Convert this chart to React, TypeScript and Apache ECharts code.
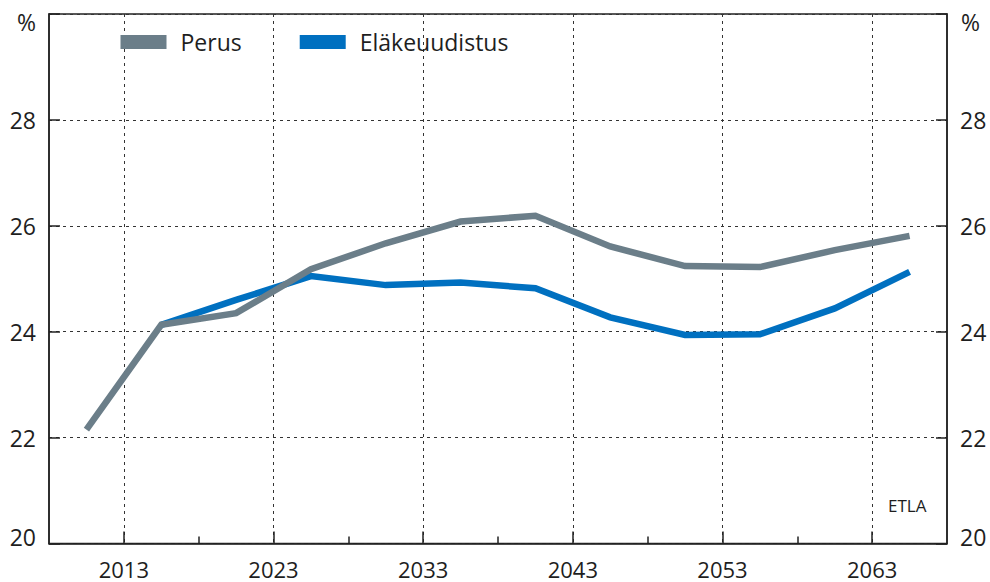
import React, { useEffect, useRef } from "react";
import * as echarts from "echarts";

const years = [2010.5, 2015.5, 2020.5, 2025.5, 2030.5, 2035.5, 2040.5, 2045.5, 2050.5, 2055.5, 2060.5, 2065.5];
const perus = [22.15, 24.13, 24.35, 25.18, 25.67, 26.08, 26.19, 25.61, 25.24, 25.22, 25.54, 25.81];
const elakeuudistus = [null, 24.13, 24.6, 25.05, 24.88, 24.93, 24.82, 24.27, 23.94, 23.95, 24.44, 25.13];
const majorTicks = [2013, 2023, 2033, 2043, 2053, 2063];
const minorTicks = [2018, 2028, 2038, 2048, 2058];
const seriesNames = ["Perus", "Eläkeuudistus"];
const colors = ["#6b7e89", "#0070c0"];

const FONT = "Open Sans";
const TXT = "#1e1e1e";

export default function App() {
  const ref = useRef<HTMLDivElement>(null);
  useEffect(() => {
    if (!ref.current) return;
    document.body.style.margin = "0";
    const chart = echarts.init(ref.current, null, { renderer: "svg" });
    const pair = (vals: (number | null)[]) => years.map((y, i) => [y, vals[i]]);
    const yAxisBase = {
      type: "value" as const,
      min: 20,
      max: 30,
      interval: 2,
      axisLine: { show: true, lineStyle: { color: "#222", width: 1.5 } },
      axisTick: { show: true, inside: true, length: 11, lineStyle: { color: "#222", width: 1.5 } },
      axisLabel: {
        color: TXT,
        fontFamily: FONT,
        fontSize: 23,
        lineHeight: 14,
        margin: 13,
        verticalAlignMinLabel: "bottom",
        formatter: (v: number) => (v === 30 ? "" : String(v)),
      },
    };
    chart.setOption({
      animation: false,
      grid: {
        left: 49,
        right: 43,
        top: 14,
        bottom: 38.5,
        show: true,
        borderColor: "#222",
        borderWidth: 1.5,
        backgroundColor: "transparent",
      },
      legend: {
        data: seriesNames,
        left: 120.5,
        top: 30.5,
        padding: 0,
        icon: "rect",
        itemWidth: 46,
        itemHeight: 14,
        itemGap: 58,
        textStyle: { color: TXT, fontFamily: FONT, fontSize: 23, padding: [0, 0, 0, 9] },
      },
      xAxis: [
        {
          type: "value",
          min: 2008,
          max: 2068,
          position: "bottom",
          axisLine: { show: true, onZero: false, lineStyle: { color: "#222", width: 1.5 } },
          axisTick: {
            show: true,
            inside: true,
            length: 12,
            customValues: majorTicks,
            lineStyle: { color: "#222", width: 1.5 },
          },
          axisLabel: {
            customValues: majorTicks,
            color: TXT,
            fontFamily: FONT,
            fontSize: 22,
            lineHeight: 22,
            margin: 14,
            formatter: (v: number) => String(v),
          },
          splitLine: { show: true, lineStyle: { color: "#333", width: 1, type: [3, 4] } },
        },
        {
          type: "value",
          min: 2008,
          max: 2068,
          position: "bottom",
          axisLine: { show: false, onZero: false },
          axisTick: {
            show: true,
            inside: true,
            length: 7,
            customValues: minorTicks,
            lineStyle: { color: "#222", width: 1.5 },
          },
          axisLabel: { show: false },
          splitLine: { show: false },
        },
      ],
      yAxis: [
        {
          ...yAxisBase,
          position: "left",
          splitLine: { show: true, lineStyle: { color: "#333", width: 1, type: [3, 4] } },
        },
        {
          ...yAxisBase,
          position: "right",
          splitLine: { show: false },
        },
      ],
      graphic: [
        { type: "text", left: 17, top: 10, style: { text: "%", fill: TXT, font: `23px "${FONT}"` } },
        { type: "text", left: 961, top: 10, style: { text: "%", fill: TXT, font: `23px "${FONT}"` } },
        { type: "text", left: 888, top: 497, style: { text: "ETLA", fill: TXT, font: `17px "${FONT}"` } },
      ],
      series: [
        {
          name: seriesNames[1],
          type: "line",
          data: pair(elakeuudistus),
          showSymbol: false,
          symbol: "none",
          lineStyle: { color: colors[1], width: 6.5, cap: "butt", join: "miter" },
          itemStyle: { color: colors[1] },
          z: 2,
        },
        {
          name: seriesNames[0],
          type: "line",
          data: pair(perus),
          showSymbol: false,
          symbol: "none",
          lineStyle: { color: colors[0], width: 6.5, cap: "butt", join: "miter" },
          itemStyle: { color: colors[0] },
          z: 3,
        },
      ],
    });
    return () => chart.dispose();
  }, []);
  return <div ref={ref} style={{ width: 990, height: 582 }} />;
}
